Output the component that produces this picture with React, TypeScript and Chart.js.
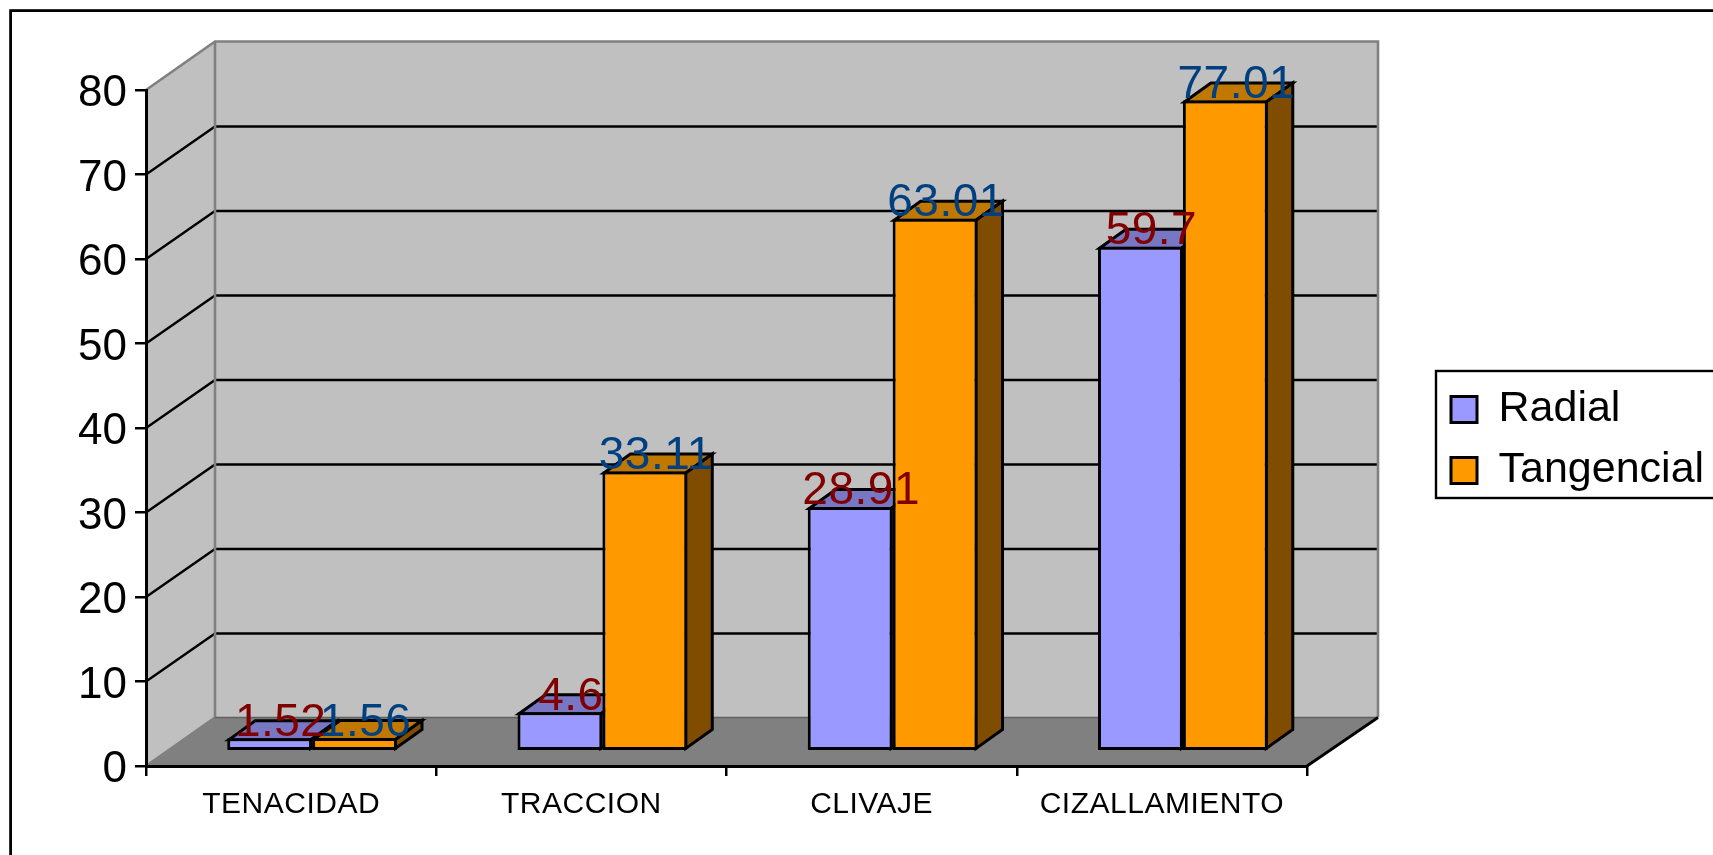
import React, { useEffect, useRef } from "react";
import { Chart, registerables } from "chart.js";

Chart.register(...registerables);

const categories = ["TENACIDAD", "TRACCION", "CLIVAJE", "CIZALLAMIENTO"];
const radialValues = [1.52, 4.6, 28.91, 59.7];
const tangencialValues = [1.56, 33.11, 63.01, 77.01];
const valueTicks = [0, 10, 20, 30, 40, 50, 60, 70, 80];

const WIDTH = 1713;
const HEIGHT = 855;
const FONT = '"Liberation Sans", Arial, sans-serif';

// Projection of the 3D box: from the front plane to the back wall, and to the bars' front faces.
const WALL_DX = 70;
const WALL_DY = 48.5;
const BAR_DX = 21;
const BAR_DY = 14.8;
const BAR_DEPTH_X = 26.5;
const BAR_DEPTH_Y = 19;
const BAR_LINE = 3;

const faces = [
  { front: "#9999FF", top: "#7777C4", side: "#4D4D80", label: "#800000" },
  { front: "#FF9900", top: "#C07800", side: "#804C00", label: "#004080" },
];

// Runs a scale's or legend's drawing method with letter spacing and a small vertical nudge.
function tracked(box: any, method: string, spacing: string, nudge = 0) {
  if (box.__tracked) return;
  box.__tracked = true;
  const original = box[method].bind(box);
  box[method] = (...args: any[]) => {
    const ctx = box.ctx as any;
    const previous = ctx.letterSpacing;
    ctx.save();
    ctx.translate(0, nudge);
    ctx.letterSpacing = spacing;
    original(...args);
    ctx.letterSpacing = previous;
    ctx.restore();
  };
}

const boxPlugin = {
  id: "box3d",
  afterLayout(chart: any) {
    const legend = chart.legend;
    legend.left = 1433;
    legend.top = 370;
    legend.right = WIDTH;
    legend.bottom = 620;
    legend.width = WIDTH - 1433;
    legend.height = 250;
    tracked(legend, "draw", "0px");
    tracked(chart.scales.x, "drawLabels", "0.5px");
    tracked(chart.scales.y, "drawLabels", "0px", 4);
  },
  beforeDraw(chart: any) {
    const { ctx, chartArea: a, scales } = chart;
    const y = scales.y;
    ctx.save();
    ctx.fillStyle = "#FFFFFF";
    ctx.fillRect(0, 0, WIDTH, HEIGHT);

    ctx.strokeStyle = "#000000";
    ctx.lineWidth = 2.8;
    ctx.strokeRect(10.6, 10.6, WIDTH + 40, HEIGHT + 40);

    const poly = (pts: number[][], fill: string | null, stroke?: string, lw = 2) => {
      ctx.beginPath();
      pts.forEach((p, i) => (i ? ctx.lineTo(p[0], p[1]) : ctx.moveTo(p[0], p[1])));
      if (fill) {
        ctx.closePath();
        ctx.fillStyle = fill;
        ctx.fill();
      }
      if (stroke) {
        ctx.strokeStyle = stroke;
        ctx.lineWidth = lw;
        ctx.stroke();
      }
    };

    const backLeft = a.left + WALL_DX - 1;
    const backRight = a.right + WALL_DX + 1;
    const backTop = a.top - WALL_DY;
    const backBottom = a.bottom - WALL_DY;

    // Side wall, back wall and floor
    poly([[a.left, a.top], [backLeft, backTop], [backLeft, backBottom], [a.left, a.bottom]], "#C0C0C0");
    poly([[backLeft, backTop], [backRight, backTop], [backRight, backBottom], [backLeft, backBottom]], "#C0C0C0");
    poly([[a.left, a.bottom], [backLeft, backBottom], [backRight, backBottom], [a.right, a.bottom]], "#808080");

    // Gridlines run across the side wall and along the back wall
    valueTicks.slice(1, -1).forEach((v) => {
      const py = y.getPixelForValue(v);
      poly([[a.left, py], [backLeft, py - WALL_DY + 0.5], [backRight - 1, py - WALL_DY + 0.5]], null, "#000000", 2.4);
    });

    // Wall outlines
    poly([[a.left, a.top], [backLeft, backTop], [backRight, backTop], [backRight, backBottom]], null, "#808080", 2.6);
    poly([[backLeft, backTop], [backLeft, backBottom], [a.left, a.bottom]], null, "#808080", 2.6);
    poly([[backLeft, backBottom], [backRight, backBottom]], null, "#606060", 1.5);
    poly([[a.right, a.bottom], [backRight, backBottom]], null, "#000000", 2.8);

    // Legend frame
    ctx.strokeStyle = "#000000";
    ctx.lineWidth = 2.4;
    ctx.strokeRect(1436, 371, WIDTH, 127);
    ctx.restore();
  },
  beforeDatasetsDraw(chart: any) {
    const { ctx } = chart;
    ctx.save();
    // Bars stand part-way into the box, so everything moves back along the depth axis.
    ctx.translate(BAR_DX, -BAR_DY);
    ctx.lineWidth = BAR_LINE;
    ctx.strokeStyle = "#000000";
    ctx.lineJoin = "miter";
    [0, 1].forEach((d) => {
      chart.getDatasetMeta(d).data.forEach((bar: any) => {
        const inset = BAR_LINE / 2;
        const l = bar.x - bar.width / 2 + inset;
        const r = bar.x + bar.width / 2 - inset;
        const t = bar.y + inset;
        const b = bar.base - inset;
        ctx.beginPath();
        ctx.moveTo(l, t);
        ctx.lineTo(l + BAR_DEPTH_X, t - BAR_DEPTH_Y);
        ctx.lineTo(r + BAR_DEPTH_X, t - BAR_DEPTH_Y);
        ctx.lineTo(r, t);
        ctx.closePath();
        ctx.fillStyle = faces[d].top;
        ctx.fill();
        ctx.stroke();
        ctx.beginPath();
        ctx.moveTo(r, t);
        ctx.lineTo(r + BAR_DEPTH_X, t - BAR_DEPTH_Y);
        ctx.lineTo(r + BAR_DEPTH_X, b - BAR_DEPTH_Y);
        ctx.lineTo(r, b);
        ctx.closePath();
        ctx.fillStyle = faces[d].side;
        ctx.fill();
        ctx.stroke();
      });
    });
  },
  afterDatasetsDraw(chart: any) {
    const { ctx } = chart;
    ctx.restore();
    ctx.save();
    ctx.font = `46px ${FONT}`;
    (ctx as any).letterSpacing = "0.5px";
    ctx.textAlign = "center";
    ctx.textBaseline = "alphabetic";
    [0, 1].forEach((d) => {
      const values = chart.data.datasets[d].data;
      chart.getDatasetMeta(d).data.forEach((bar: any, i: number) => {
        ctx.fillStyle = faces[d].label;
        ctx.fillText(String(values[i]), bar.x + BAR_DX + 11, bar.y - BAR_DY - 2.5);
      });
    });
    ctx.restore();
  },
};

export default function App() {
  const ref = useRef<HTMLCanvasElement>(null);
  useEffect(() => {
    const chart = new Chart(ref.current!, {
      type: "bar",
      data: {
        labels: categories,
        datasets: [
          { label: "Radial", data: radialValues, backgroundColor: faces[0].front },
          { label: "Tangencial", data: tangencialValues, backgroundColor: faces[1].front },
        ].map((d) => ({
          ...d,
          borderColor: "#000000",
          borderWidth: BAR_LINE,
          borderSkipped: false,
          categoryPercentage: 0.585,
          barPercentage: 1,
          clip: false,
        })) as any,
      },
      options: {
        responsive: false,
        animation: false,
        layout: { padding: { top: 90, right: WIDTH - 1307, left: 0, bottom: 0 } },
        plugins: {
          tooltip: { enabled: false },
          title: { display: false },
          legend: {
            position: "chartArea" as any,
            align: "start",
            labels: {
              boxWidth: 26,
              boxHeight: 26,
              padding: 18,
              color: "#000000",
              font: { family: FONT, size: 43 },
            },
          },
        },
        scales: {
          x: {
            afterFit: (s: any) => {
              s.height = HEIGHT - 766;
            },
            border: { color: "#000000", width: 3 },
            grid: { drawOnChartArea: false, drawTicks: true, tickLength: 10, color: "#000000", lineWidth: 2.5 },
            ticks: {
              color: "#000000",
              maxRotation: 0,
              autoSkip: false,
              padding: 11,
              font: { family: FONT, size: 30 },
            },
          },
          y: {
            min: 0,
            max: 80,
            afterFit: (s: any) => {
              s.width = 146;
            },
            border: { color: "#000000", width: 3 },
            grid: { drawOnChartArea: false, drawTicks: true, tickLength: 11, color: "#000000", lineWidth: 2.5 },
            ticks: {
              stepSize: 10,
              color: "#000000",
              padding: 8,
              font: { family: FONT, size: 44 },
            },
          },
        },
      },
      plugins: [boxPlugin],
    });
    return () => chart.destroy();
  }, []);
  return (
    <canvas
      ref={ref}
      width={WIDTH}
      height={HEIGHT}
      style={{ position: "absolute", left: 0, top: 0, width: WIDTH, height: HEIGHT }}
    />
  );
}
